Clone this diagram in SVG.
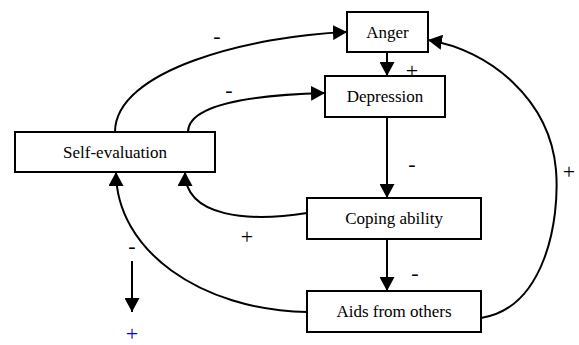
<svg xmlns="http://www.w3.org/2000/svg" width="579" height="345" viewBox="0 0 579 345">
<style>
.box{fill:#fff;stroke:#000;stroke-width:2}
.c{fill:none;stroke:#000;stroke-width:2}
</style>
<defs>
<marker id="ah" markerWidth="15" markerHeight="15" refX="14" refY="7.5" orient="auto" markerUnits="userSpaceOnUse">
<path d="M0,0 L14,7.5 L0,15 Z" fill="#000"/>
</marker>
</defs>
<rect width="579" height="345" fill="#fff"/>
<g id="connectors">
<path class="c" d="M387,52 L387,76" marker-end="url(#ah)"/>
<path class="c" d="M387,117 L387,198" marker-end="url(#ah)"/>
<path class="c" d="M387,239 L387,291" marker-end="url(#ah)"/>
<path class="c" d="M115,132 C115,70 250,36 347,32" marker-end="url(#ah)"/>
<path class="c" d="M188,132 C188,105 250,95 325,93" marker-end="url(#ah)"/>
<path class="c" d="M307,213 C250,222 185,218 185,172" marker-end="url(#ah)"/>
<path class="c" d="M307,312 C200,310 116,250 116,172" marker-end="url(#ah)"/>
<path class="c" d="M481,318 C545,308 560,220 556,170 C550,100 490,50 428,40" marker-end="url(#ah)"/>
<path class="c" d="M132,261 L132,312" marker-end="url(#ah)"/>
</g>
<g id="anger"><rect class="box" x="347" y="12" width="81" height="40"/><text x="387.5" y="38" style="font-family:'Liberation Serif',serif;font-size:17px;text-anchor:middle">Anger</text></g>
<g id="depression"><rect class="box" x="325" y="76" width="120" height="41"/><text x="385" y="102" style="font-family:'Liberation Serif',serif;font-size:17px;text-anchor:middle">Depression</text></g>
<g id="coping"><rect class="box" x="307" y="198" width="174" height="41"/><text x="394" y="224" style="font-family:'Liberation Serif',serif;font-size:17px;text-anchor:middle">Coping ability</text></g>
<g id="aids"><rect class="box" x="307" y="291" width="174" height="41"/><text x="394" y="317" style="font-family:'Liberation Serif',serif;font-size:17px;text-anchor:middle">Aids from others</text></g>
<g id="self"><rect class="box" x="15" y="132" width="200" height="40"/><text x="115" y="158" style="font-family:'Liberation Serif',serif;font-size:17px;text-anchor:middle">Self-evaluation</text></g>
<g id="labels">
<text x="217" y="43" style="font-family:'Liberation Serif',serif;font-size:22px;text-anchor:middle">-</text>
<text x="229" y="97" style="font-family:'Liberation Serif',serif;font-size:22px;text-anchor:middle">-</text>
<text x="412" y="78" style="font-family:'Liberation Serif',serif;font-size:22px;text-anchor:middle">+</text>
<text x="412" y="171" style="font-family:'Liberation Serif',serif;font-size:22px;text-anchor:middle">-</text>
<text x="415" y="280" style="font-family:'Liberation Serif',serif;font-size:22px;text-anchor:middle">-</text>
<text x="569" y="179" style="font-family:'Liberation Serif',serif;font-size:22px;text-anchor:middle">+</text>
<text x="247" y="244" style="font-family:'Liberation Serif',serif;font-size:22px;text-anchor:middle">+</text>
<text x="132" y="253" style="font-family:'Liberation Serif',serif;font-size:22px;text-anchor:middle">-</text>
<text x="132" y="341" style="font-family:'Liberation Serif',serif;font-size:22px;text-anchor:middle;fill:#0000ff">+</text>
</g>
</svg>
